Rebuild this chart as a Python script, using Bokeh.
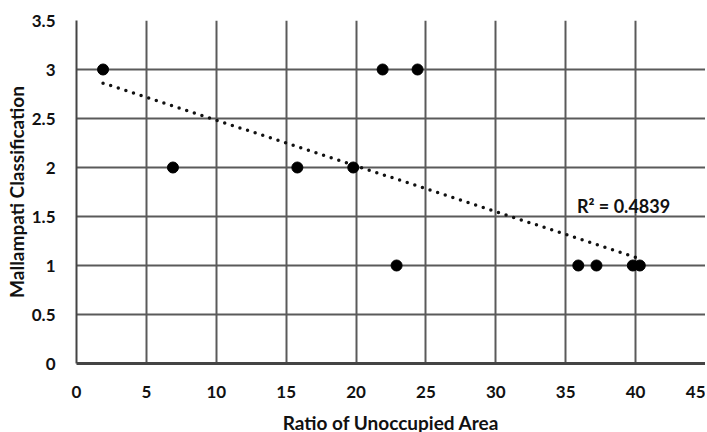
import numpy as np
from bokeh.plotting import figure
from bokeh.models import ColumnDataSource, Label, FixedTicker
from bokeh.embed import file_html
from bokeh.resources import INLINE

# data
ratio = [1.9, 6.9, 15.8, 19.8, 21.9, 24.4, 22.9, 35.9, 37.2, 39.8, 40.3]
mallampati = [3, 2, 2, 2, 3, 3, 1, 1, 1, 1, 1]
x_ticks = [0, 5, 10, 15, 20, 25, 30, 35, 40, 45]
y_ticks = [0, 0.5, 1, 1.5, 2, 2.5, 3, 3.5]
y_tick_labels = ["0", "0.5", "1", "1.5", "2", "2.5", "3", "3.5"]
r2_text = "R² = 0.4839"

FONT = "Lato"

p = figure(frame_width=629, frame_height=343, output_backend="svg", toolbar_location=None,
           x_range=(0, 45), y_range=(0, 3.5),
           min_border_left=76, min_border_right=0, min_border_top=20, min_border_bottom=69)
p.outline_line_color = None

# grid
for g in (p.xgrid, p.ygrid):
    g.grid_line_color = "#5a5a5a"
    g.grid_line_width = 2
p.xaxis.ticker = FixedTicker(ticks=x_ticks)
p.yaxis.ticker = FixedTicker(ticks=y_ticks)
p.yaxis.major_label_overrides = {t: l for t, l in zip(y_ticks, y_tick_labels)}

for ax in (p.xaxis, p.yaxis):
    ax.major_tick_line_color = None
    ax.minor_tick_line_color = None
    ax.major_label_text_font = FONT
    ax.major_label_text_font_size = "17px"
    ax.major_label_text_color = "#111111"
    ax.major_label_text_font_style = "bold"
    ax.axis_label_text_font = FONT
    ax.axis_label_text_font_size = "19px"
    ax.axis_label_text_font_style = "bold"
    ax.axis_label_text_color = "#111111"
p.xaxis.axis_line_color = "#444444"
p.xaxis.axis_line_width = 3
p.yaxis.axis_line_color = "#444444"
p.yaxis.axis_line_width = 2
p.xaxis.major_label_standoff = 16
p.yaxis.major_label_standoff = 15
p.xaxis.axis_label = "Ratio of Unoccupied Area"
p.yaxis.axis_label = "Mallampati Classification"
p.xaxis.axis_label_standoff = 10
p.yaxis.axis_label_standoff = 1

# trendline
xs = np.array(ratio, dtype=float)
ys = np.array(mallampati, dtype=float)
slope, intercept = np.polyfit(xs, ys, 1)
tx = np.array([xs.min(), xs.max()])
ty = slope * tx + intercept
p.line(tx, ty, line_color="#111111", line_width=3.5, line_dash="0 8", line_cap="round")

src = ColumnDataSource(dict(x=ratio, y=mallampati))
p.scatter("x", "y", source=src, size=11, fill_color="black", line_color="black")

p.add_layout(Label(x=35.8, y=1.61, text=r2_text, text_font=FONT, text_font_size="18px",
                   text_baseline="middle", text_color="#111111", text_font_style="bold"))

open("out.html", "w").write(file_html(p, INLINE))
